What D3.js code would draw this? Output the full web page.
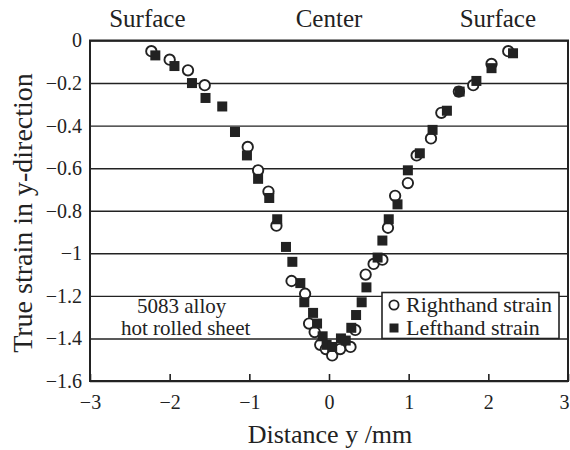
<!DOCTYPE html>
<html>
<head>
<meta charset="utf-8">
<script src="https://cdn.jsdelivr.net/npm/d3@7"></script>
<style>
  html, body { margin: 0; padding: 0; background: #fff; }
</style>
</head>
<body>
<svg id="chart" width="570" height="450"></svg>
<script>
// Distance from sheet centre (mm) and true strain in the y-direction
const rightX = [-2.23, -2.00, -1.77, -1.56, -1.02, -0.89, -0.76, -0.66, -0.47, -0.30,
                -0.25, -0.18, -0.11, -0.04, 0.04, 0.14, 0.27, 0.33, 0.46, 0.56,
                0.67, 0.74, 0.83, 0.99, 1.10, 1.28, 1.41, 1.63, 1.81, 2.04, 2.25];
const rightY = [-0.05, -0.09, -0.14, -0.21, -0.50, -0.61, -0.71, -0.87, -1.13, -1.19,
                -1.33, -1.37, -1.43, -1.45, -1.48, -1.45, -1.44, -1.36, -1.10, -1.05,
                -1.03, -0.88, -0.73, -0.67, -0.54, -0.46, -0.34, -0.24, -0.21, -0.11, -0.05];

const leftX = [-2.18, -1.94, -1.72, -1.55, -1.34, -1.18, -1.03, -0.89, -0.75, -0.65,
               -0.54, -0.46, -0.36, -0.31, -0.20, -0.15, -0.08, -0.03, 0.04, 0.15,
               0.21, 0.28, 0.34, 0.41, 0.47, 0.61, 0.67, 0.75, 0.86, 0.99,
               1.14, 1.30, 1.48, 1.64, 1.85, 2.04, 2.31];
const leftY = [-0.07, -0.12, -0.20, -0.27, -0.31, -0.43, -0.54, -0.65, -0.74, -0.84,
               -0.97, -1.04, -1.14, -1.23, -1.28, -1.33, -1.39, -1.43, -1.44, -1.40,
               -1.41, -1.35, -1.29, -1.23, -1.16, -1.02, -0.94, -0.84, -0.77, -0.61,
               -0.53, -0.42, -0.33, -0.24, -0.19, -0.13, -0.06];

const xTicks = [-3, -2, -1, 0, 1, 2, 3];
const yTicks = [0, -0.2, -0.4, -0.6, -0.8, -1, -1.2, -1.4, -1.6];
const seriesNames = ["Righthand strain", "Lefthand strain"];
const topLabels = [{ x: -2.28, text: "Surface" }, { x: 0, text: "Center" }, { x: 2.12, text: "Surface" }];
const noteLines = ["5083 alloy", "hot rolled sheet"];

const margin = { left: 90, top: 40.5, right: 2, bottom: 69 };
const W = 570, H = 450;
const width = W - margin.left - margin.right;
const height = H - margin.top - margin.bottom;
const ink = "#222";
const serif = "Liberation Serif, Times New Roman, Times, Tinos, Noto Serif, DejaVu Serif, FreeSerif, serif";

const svg = d3.select("#chart").attr("font-family", serif);
const g = svg.append("g").attr("transform", `translate(${margin.left},${margin.top})`);

const x = d3.scaleLinear().domain([-3, 3]).range([0, width]);
const y = d3.scaleLinear().domain([-1.6, 0]).range([height, 0]);
const fmt = d => d3.format("")(d);

// horizontal grid lines with tick labels on the left
const yAxis = g.append("g")
  .call(d3.axisLeft(y).tickValues(yTicks).tickSizeInner(-width).tickSizeOuter(0)
    .tickPadding(8).tickFormat(fmt));
yAxis.attr("font-family", serif).attr("font-size", 20);
yAxis.select(".domain").remove();
yAxis.selectAll(".tick line").attr("stroke", ink).attr("stroke-width", 1.4);
yAxis.selectAll(".tick text").attr("fill", ink);

// bottom axis: short inward ticks
const xAxis = g.append("g").attr("transform", `translate(0,${height})`)
  .call(d3.axisBottom(x).tickValues(xTicks).tickSizeInner(-7).tickSizeOuter(0)
    .tickPadding(14).tickFormat(fmt));
xAxis.attr("font-family", serif).attr("font-size", 20);
xAxis.select(".domain").remove();
xAxis.selectAll(".tick line").attr("stroke", ink).attr("stroke-width", 1.6);
xAxis.selectAll(".tick text").attr("fill", ink)
  .attr("dx", d => d === 3 ? -4 : 0);

// plot frame
g.append("rect").attr("x", 0).attr("y", 0).attr("width", width).attr("height", height)
  .attr("fill", "none").attr("stroke", ink).attr("stroke-width", 2);

// annotation
g.selectAll("text.note").data(noteLines).join("text")
  .attr("class", "note")
  .attr("x", (d, i) => x(-1.85) + (i ? 4 : 0))
  .attr("y", (d, i) => y(-1.2) + 17 + i * 22)
  .attr("text-anchor", "middle")
  .attr("fill", ink)
  .attr("font-size", 21)
  .text(d => d);

// righthand strain: open circles
const rightData = rightX.map((v, i) => ({ x: v, y: rightY[i] }));
g.selectAll("circle.right").data(rightData).join("circle")
  .attr("class", "right")
  .attr("cx", d => x(d.x)).attr("cy", d => y(d.y)).attr("r", 5.2)
  .attr("fill", "#fff").attr("stroke", ink).attr("stroke-width", 1.9);

// lefthand strain: filled squares
const sq = 10;
const leftData = leftX.map((v, i) => ({ x: v, y: leftY[i] }));
g.selectAll("rect.left").data(leftData).join("rect")
  .attr("class", "left")
  .attr("x", d => x(d.x) - sq / 2).attr("y", d => y(d.y) - sq / 2)
  .attr("width", sq).attr("height", sq).attr("fill", ink);

// legend
const lg = g.append("g").attr("transform", `translate(${292},${252})`);
lg.append("rect").attr("x", 0).attr("y", 0).attr("width", 177).attr("height", 46)
  .attr("fill", "#fff").attr("stroke", ink).attr("stroke-width", 1.6);
lg.append("circle").attr("cx", 12).attr("cy", 12.5).attr("r", 4.6)
  .attr("fill", "#fff").attr("stroke", ink).attr("stroke-width", 1.8);
lg.append("rect").attr("x", 7.5).attr("y", 31).attr("width", 9).attr("height", 9).attr("fill", ink);
lg.selectAll("text").data(seriesNames).join("text")
  .attr("x", 24).attr("y", (d, i) => 19.5 + i * 23)
  .attr("fill", ink)
  .attr("font-size", 22).text(d => d);

// surface / centre labels along the top
svg.selectAll("text.top").data(topLabels).join("text")
  .attr("class", "top")
  .attr("x", d => margin.left + x(d.x)).attr("y", 27)
  .attr("text-anchor", "middle")
  .attr("fill", ink)
  .attr("font-size", 25)
  .text(d => d.text);

// axis titles
svg.append("text")
  .attr("x", margin.left + x(0) + 1).attr("y", 443)
  .attr("text-anchor", "middle")
  .attr("fill", ink).attr("font-size", 26)
  .text("Distance y /mm");

svg.append("text")
  .attr("transform", `translate(32,${213}) rotate(-90)`)
  .attr("text-anchor", "middle")
  .attr("fill", ink).attr("font-size", 28)
  .text("True strain in y-direction");
</script>
</body>
</html>
